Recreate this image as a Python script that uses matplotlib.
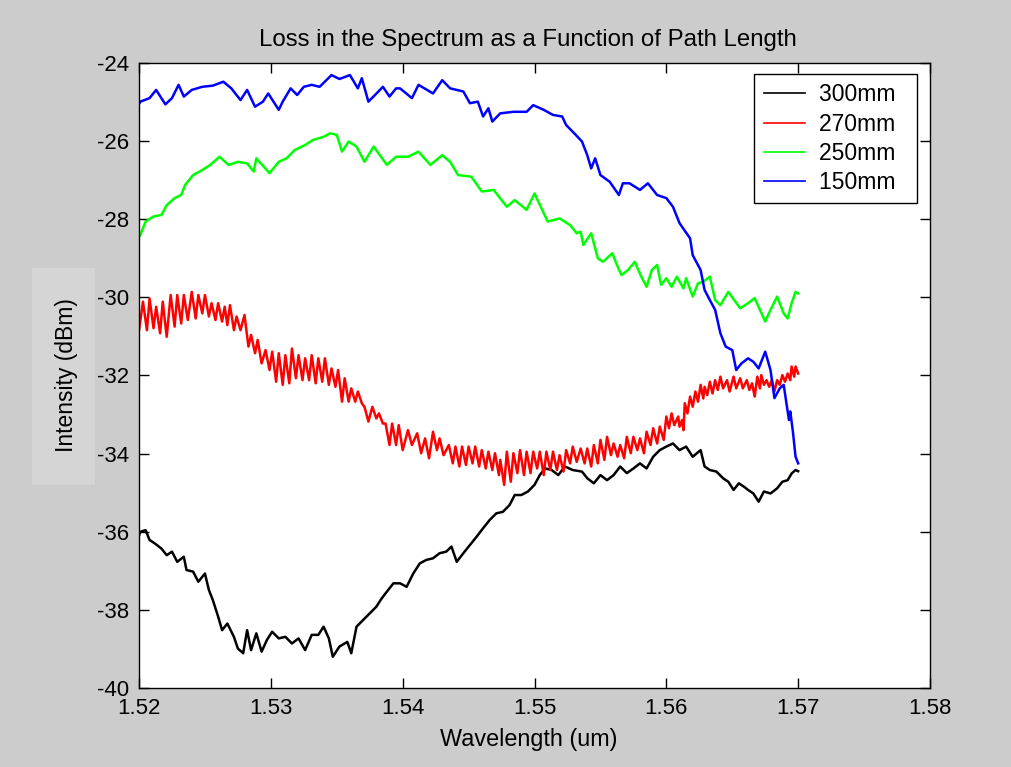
#!/usr/bin/env python3
"""Spectrum loss versus path length, MATLAB-style figure."""

import matplotlib

matplotlib.use("Agg")
import matplotlib.pyplot as plt
from matplotlib.patches import Rectangle

# 300 mm path
black_wl = [1.5200, 1.5201, 1.5205, 1.5208, 1.5212, 1.5217, 1.5221, 1.5225, 1.5229, 1.5234,
            1.5236, 1.5241, 1.5245, 1.5250, 1.5253, 1.5256, 1.5260, 1.5263, 1.5267, 1.5272,
            1.5275, 1.5279, 1.5282, 1.5285, 1.5289, 1.5293, 1.5297, 1.5301, 1.5306, 1.5311,
            1.5316, 1.5321, 1.5326, 1.5331, 1.5336, 1.5340, 1.5344, 1.5347, 1.5352, 1.5358,
            1.5361, 1.5365, 1.5370, 1.5375, 1.5380, 1.5384, 1.5389, 1.5393, 1.5398, 1.5403,
            1.5408, 1.5413, 1.5418, 1.5423, 1.5428, 1.5433, 1.5437, 1.5441, 1.5446, 1.5451,
            1.5456, 1.5461, 1.5466, 1.5471, 1.5476, 1.5481, 1.5485, 1.5490, 1.5495, 1.5500,
            1.5504, 1.5508, 1.5513, 1.5518, 1.5523, 1.5529, 1.5536, 1.5540, 1.5545, 1.5550,
            1.5555, 1.5560, 1.5565, 1.5570, 1.5575, 1.5580, 1.5585, 1.5590, 1.5595, 1.5600,
            1.5605, 1.5610, 1.5615, 1.5620, 1.5626, 1.5629, 1.5633, 1.5638, 1.5643, 1.5647,
            1.5651, 1.5655, 1.5659, 1.5662, 1.5666, 1.5670, 1.5674, 1.5679, 1.5684, 1.5688,
            1.5692, 1.5695, 1.5698, 1.5700]
black_db = [-36.10, -36.00, -35.96, -36.21, -36.30, -36.43, -36.60, -36.51, -36.77, -36.64,
            -36.98, -37.02, -37.28, -37.07, -37.49, -37.75, -38.17, -38.52, -38.35, -38.69,
            -38.99, -39.11, -38.52, -39.03, -38.60, -39.07, -38.77, -38.56, -38.73, -38.69,
            -38.86, -38.73, -39.03, -38.64, -38.64, -38.43, -38.73, -39.20, -38.94, -38.82,
            -39.11, -38.43, -38.26, -38.09, -37.92, -37.71, -37.49, -37.32, -37.32, -37.41,
            -37.07, -36.81, -36.72, -36.68, -36.55, -36.51, -36.38, -36.77, -36.55, -36.34,
            -36.13, -35.91, -35.70, -35.53, -35.49, -35.32, -35.06, -35.06, -34.97, -34.80,
            -34.55, -34.38, -34.42, -34.55, -34.33, -34.42, -34.46, -34.63, -34.76, -34.55,
            -34.68, -34.55, -34.33, -34.50, -34.38, -34.25, -34.38, -34.08, -33.91, -33.82,
            -33.74, -33.91, -33.82, -34.08, -33.91, -34.33, -34.42, -34.46, -34.63, -34.72,
            -34.93, -34.76, -34.85, -34.93, -35.02, -35.23, -34.97, -35.02, -34.89, -34.72,
            -34.68, -34.51, -34.42, -34.45]

# 270 mm path (strong fringe ripple)
red_wl = [1.5200, 1.5203, 1.5206, 1.5208, 1.5211, 1.5213, 1.5216, 1.5218, 1.5221, 1.5224,
          1.5227, 1.5229, 1.5232, 1.5234, 1.5237, 1.5240, 1.5243, 1.5245, 1.5248, 1.5250,
          1.5253, 1.5255, 1.5258, 1.5260, 1.5263, 1.5265, 1.5267, 1.5269, 1.5272, 1.5274,
          1.5277, 1.5280, 1.5283, 1.5285, 1.5288, 1.5290, 1.5293, 1.5296, 1.5299, 1.5301,
          1.5304, 1.5306, 1.5309, 1.5311, 1.5314, 1.5316, 1.5319, 1.5321, 1.5324, 1.5326,
          1.5329, 1.5331, 1.5334, 1.5336, 1.5339, 1.5341, 1.5344, 1.5346, 1.5349, 1.5351,
          1.5354, 1.5356, 1.5359, 1.5361, 1.5364, 1.5366, 1.5369, 1.5371, 1.5374, 1.5377,
          1.5380, 1.5382, 1.5385, 1.5387, 1.5390, 1.5392, 1.5395, 1.5397, 1.5400, 1.5404,
          1.5407, 1.5411, 1.5414, 1.5417, 1.5420, 1.5423, 1.5426, 1.5428, 1.5431, 1.5435,
          1.5438, 1.5440, 1.5443, 1.5445, 1.5448, 1.5450, 1.5453, 1.5455, 1.5458, 1.5460,
          1.5463, 1.5465, 1.5468, 1.5470, 1.5473, 1.5474, 1.5477, 1.5479, 1.5482, 1.5484,
          1.5487, 1.5489, 1.5492, 1.5494, 1.5497, 1.5499, 1.5502, 1.5504, 1.5507, 1.5509,
          1.5512, 1.5514, 1.5517, 1.5519, 1.5522, 1.5524, 1.5527, 1.5529, 1.5532, 1.5535,
          1.5538, 1.5540, 1.5543, 1.5545, 1.5548, 1.5550, 1.5553, 1.5555, 1.5558, 1.5560,
          1.5563, 1.5565, 1.5568, 1.5570, 1.5573, 1.5575, 1.5578, 1.5580, 1.5583, 1.5585,
          1.5588, 1.5590, 1.5593, 1.5595, 1.5598, 1.5600, 1.5602, 1.5604, 1.5606, 1.5609,
          1.5610, 1.5612, 1.5613, 1.5614, 1.5616, 1.5618, 1.5620, 1.5622, 1.5624, 1.5626,
          1.5628, 1.5629, 1.5631, 1.5633, 1.5635, 1.5637, 1.5639, 1.5641, 1.5643, 1.5646,
          1.5648, 1.5651, 1.5653, 1.5656, 1.5658, 1.5661, 1.5663, 1.5665, 1.5667, 1.5669,
          1.5671, 1.5672, 1.5674, 1.5676, 1.5678, 1.5680, 1.5682, 1.5684, 1.5686, 1.5688,
          1.5690, 1.5692, 1.5694, 1.5695, 1.5697, 1.5698, 1.5700]
red_db = [-30.84, -30.11, -30.84, -30.03, -30.79, -30.24, -30.92, -30.11, -31.01, -29.94,
          -30.75, -29.94, -30.67, -29.94, -30.58, -29.86, -30.54, -29.94, -30.41, -29.94,
          -30.49, -30.15, -30.58, -30.15, -30.62, -30.24, -30.71, -30.20, -30.84, -30.49,
          -30.84, -30.45, -31.26, -30.96, -31.43, -31.09, -31.69, -31.35, -31.86, -31.39,
          -32.16, -31.43, -32.24, -31.48, -32.20, -31.31, -32.07, -31.48, -32.12, -31.56,
          -32.12, -31.48, -32.20, -31.56, -32.16, -31.56, -32.24, -31.82, -32.29, -31.86,
          -32.67, -32.07, -32.67, -32.33, -32.67, -32.41, -32.71, -32.80, -33.18, -32.80,
          -33.10, -32.97, -33.23, -33.23, -33.78, -33.23, -33.78, -33.27, -33.91, -33.40,
          -33.78, -33.48, -33.99, -33.61, -34.12, -33.44, -33.91, -33.61, -34.04, -33.78,
          -34.25, -33.82, -34.33, -33.82, -34.29, -33.82, -34.25, -33.82, -34.33, -33.91,
          -34.38, -33.95, -34.42, -33.99, -34.55, -34.16, -34.80, -33.95, -34.72, -33.99,
          -34.50, -33.91, -34.55, -33.95, -34.50, -33.95, -34.38, -33.95, -34.55, -33.95,
          -34.42, -33.95, -34.42, -34.04, -34.46, -33.91, -34.25, -33.82, -34.21, -33.87,
          -34.25, -33.87, -34.33, -33.78, -34.25, -33.65, -34.16, -33.57, -34.04, -33.74,
          -34.08, -33.78, -34.12, -33.57, -33.99, -33.57, -33.91, -33.61, -33.99, -33.44,
          -33.78, -33.35, -33.74, -33.31, -33.65, -33.05, -33.35, -32.97, -33.27, -33.05,
          -33.31, -33.14, -33.40, -32.71, -32.97, -32.54, -32.80, -32.41, -32.67, -32.24,
          -32.59, -32.29, -32.50, -32.16, -32.46, -32.12, -32.37, -32.03, -32.33, -32.12,
          -32.41, -32.03, -32.33, -32.07, -32.33, -32.12, -32.37, -32.20, -32.54, -32.03,
          -32.33, -31.99, -32.24, -32.12, -32.29, -32.12, -32.41, -32.12, -32.24, -31.99,
          -32.16, -31.95, -32.12, -31.77, -32.03, -31.77, -31.95]

# 250 mm path
green_wl = [1.5200, 1.5201, 1.5205, 1.5211, 1.5217, 1.5221, 1.5227, 1.5232, 1.5235, 1.5241,
            1.5248, 1.5254, 1.5261, 1.5268, 1.5275, 1.5282, 1.5287, 1.5289, 1.5299, 1.5306,
            1.5312, 1.5318, 1.5326, 1.5332, 1.5340, 1.5345, 1.5350, 1.5354, 1.5359, 1.5365,
            1.5371, 1.5378, 1.5388, 1.5395, 1.5404, 1.5412, 1.5421, 1.5430, 1.5436, 1.5442,
            1.5452, 1.5460, 1.5469, 1.5479, 1.5485, 1.5494, 1.5500, 1.5510, 1.5519, 1.5527,
            1.5532, 1.5535, 1.5537, 1.5543, 1.5548, 1.5552, 1.5559, 1.5562, 1.5566, 1.5571,
            1.5576, 1.5581, 1.5585, 1.5589, 1.5593, 1.5596, 1.5600, 1.5604, 1.5608, 1.5613,
            1.5615, 1.5620, 1.5624, 1.5628, 1.5633, 1.5637, 1.5641, 1.5647, 1.5656, 1.5662,
            1.5667, 1.5675, 1.5679, 1.5684, 1.5689, 1.5692, 1.5695, 1.5698, 1.5700]
green_db = [-28.45, -28.40, -28.06, -27.93, -27.89, -27.64, -27.46, -27.38, -27.12, -26.87,
            -26.74, -26.61, -26.40, -26.61, -26.53, -26.57, -26.78, -26.44, -26.82, -26.53,
            -26.44, -26.23, -26.10, -25.97, -25.89, -25.80, -25.84, -26.27, -26.01, -26.14,
            -26.53, -26.14, -26.61, -26.40, -26.40, -26.27, -26.61, -26.36, -26.53, -26.87,
            -26.91, -27.29, -27.25, -27.68, -27.51, -27.76, -27.34, -28.06, -27.98, -28.15,
            -28.36, -28.32, -28.66, -28.36, -29.00, -29.09, -28.87, -29.13, -29.43, -29.30,
            -29.09, -29.47, -29.73, -29.30, -29.17, -29.68, -29.51, -29.73, -29.47, -29.77,
            -29.51, -29.98, -29.64, -29.60, -29.47, -30.07, -30.20, -29.86, -30.28, -30.15,
            -30.02, -30.62, -30.32, -29.98, -30.41, -30.54, -30.15, -29.86, -29.90]

# 150 mm path
blue_wl = [1.5200, 1.5201, 1.5208, 1.5213, 1.5220, 1.5225, 1.5230, 1.5234, 1.5240, 1.5248,
           1.5256, 1.5264, 1.5270, 1.5277, 1.5282, 1.5288, 1.5294, 1.5298, 1.5306, 1.5309,
           1.5315, 1.5320, 1.5325, 1.5331, 1.5337, 1.5346, 1.5352, 1.5360, 1.5366, 1.5369,
           1.5374, 1.5379, 1.5385, 1.5390, 1.5395, 1.5398, 1.5407, 1.5412, 1.5423, 1.5430,
           1.5436, 1.5446, 1.5451, 1.5457, 1.5461, 1.5465, 1.5468, 1.5474, 1.5484, 1.5494,
           1.5499, 1.5507, 1.5514, 1.5521, 1.5524, 1.5529, 1.5536, 1.5540, 1.5543, 1.5546,
           1.5550, 1.5557, 1.5564, 1.5567, 1.5572, 1.5580, 1.5586, 1.5593, 1.5600, 1.5605,
           1.5610, 1.5618, 1.5620, 1.5626, 1.5629, 1.5633, 1.5637, 1.5641, 1.5645, 1.5650,
           1.5653, 1.5657, 1.5662, 1.5666, 1.5670, 1.5675, 1.5679, 1.5682, 1.5686, 1.5689,
           1.5693, 1.5694, 1.5696, 1.5698, 1.5700]
blue_db = [-25.05, -24.99, -24.90, -24.69, -25.06, -24.90, -24.56, -24.86, -24.69, -24.61,
           -24.58, -24.48, -24.65, -24.95, -24.69, -25.12, -24.99, -24.78, -25.20, -24.99,
           -24.65, -24.82, -24.61, -24.56, -24.61, -24.31, -24.41, -24.31, -24.65, -24.39,
           -24.99, -24.82, -24.61, -24.86, -24.65, -24.65, -24.90, -24.56, -24.78, -24.44,
           -24.65, -24.73, -25.03, -24.99, -25.37, -25.16, -25.50, -25.29, -25.25, -25.25,
           -25.08, -25.20, -25.33, -25.37, -25.59, -25.76, -26.01, -26.36, -26.70, -26.44,
           -26.87, -27.04, -27.38, -27.08, -27.08, -27.25, -27.08, -27.38, -27.46, -27.68,
           -28.10, -28.49, -28.92, -29.30, -29.81, -30.07, -30.32, -30.92, -31.26, -31.35,
           -31.86, -31.69, -31.56, -31.65, -31.82, -31.39, -31.86, -32.58, -32.33, -32.24,
           -33.14, -32.92, -33.44, -34.08, -34.25]

series_labels = ["300mm", "270mm", "250mm", "150mm"]
x_ticks = [1.52, 1.53, 1.54, 1.55, 1.56, 1.57, 1.58]
y_ticks = [-40, -38, -36, -34, -32, -30, -28, -26, -24]


def main() -> int:
    plt.rcParams["font.family"] = ["Liberation Sans", "DejaVu Sans"]
    plt.rcParams["font.size"] = 16

    fig = plt.figure(figsize=(10.11, 7.67), dpi=100, facecolor="#cccccc")
    ax = fig.add_axes([0.1375, 0.103, 0.7824, 0.8149])

    # lighter panel behind the y label, drawn under the axes
    fig.patches.append(Rectangle((0.032, 0.368), 0.062, 0.283, transform=fig.transFigure,
                                 facecolor="#d5d5d5", edgecolor="none", zorder=-1))

    series = [
        (black_wl, black_db, "#000000"),
        (red_wl, red_db, "#ff0000"),
        (green_wl, green_db, "#00ff00"),
        (blue_wl, blue_db, "#0000ff"),
    ]
    for (wl, db, color), label in zip(series, series_labels):
        ax.plot(wl, db, color=color, linewidth=1.8, label=label + "  ")

    ax.set_xlim(1.52, 1.58)
    ax.set_ylim(-40, -24)
    ax.set_xticks(x_ticks, labels=[f"{t:.2f}" for t in x_ticks])
    ax.set_yticks(y_ticks, labels=[str(t) for t in y_ticks])
    ax.tick_params(direction="in", top=True, right=True, length=7, width=1,
                   labelsize=16, pad=7)
    for spine in ax.spines.values():
        spine.set_linewidth(1)

    ax.set_title("Loss in the Spectrum as a Function of Path Length", fontsize=17.3,
                 pad=12, x=0.491)
    ax.set_xlabel("Wavelength (um)", fontsize=16.8, labelpad=7, x=0.493)
    ax.set_ylabel("Intensity (dBm)", fontsize=16.5, labelpad=14)

    leg = ax.legend(loc="upper right", bbox_to_anchor=(0.9836, 0.982), fontsize=16.5,
                    handlelength=1.8, handletextpad=0.6, labelspacing=0.27,
                    borderpad=0.4, borderaxespad=0, fancybox=False, framealpha=1)
    leg.get_frame().set_edgecolor("black")
    leg.get_frame().set_linewidth(1)
    for line in leg.get_lines():
        line.set_linewidth(1.2)

    fig.savefig("out.png", dpi=100, facecolor=fig.get_facecolor())
    return 0


if __name__ == "__main__":
    raise SystemExit(main())
